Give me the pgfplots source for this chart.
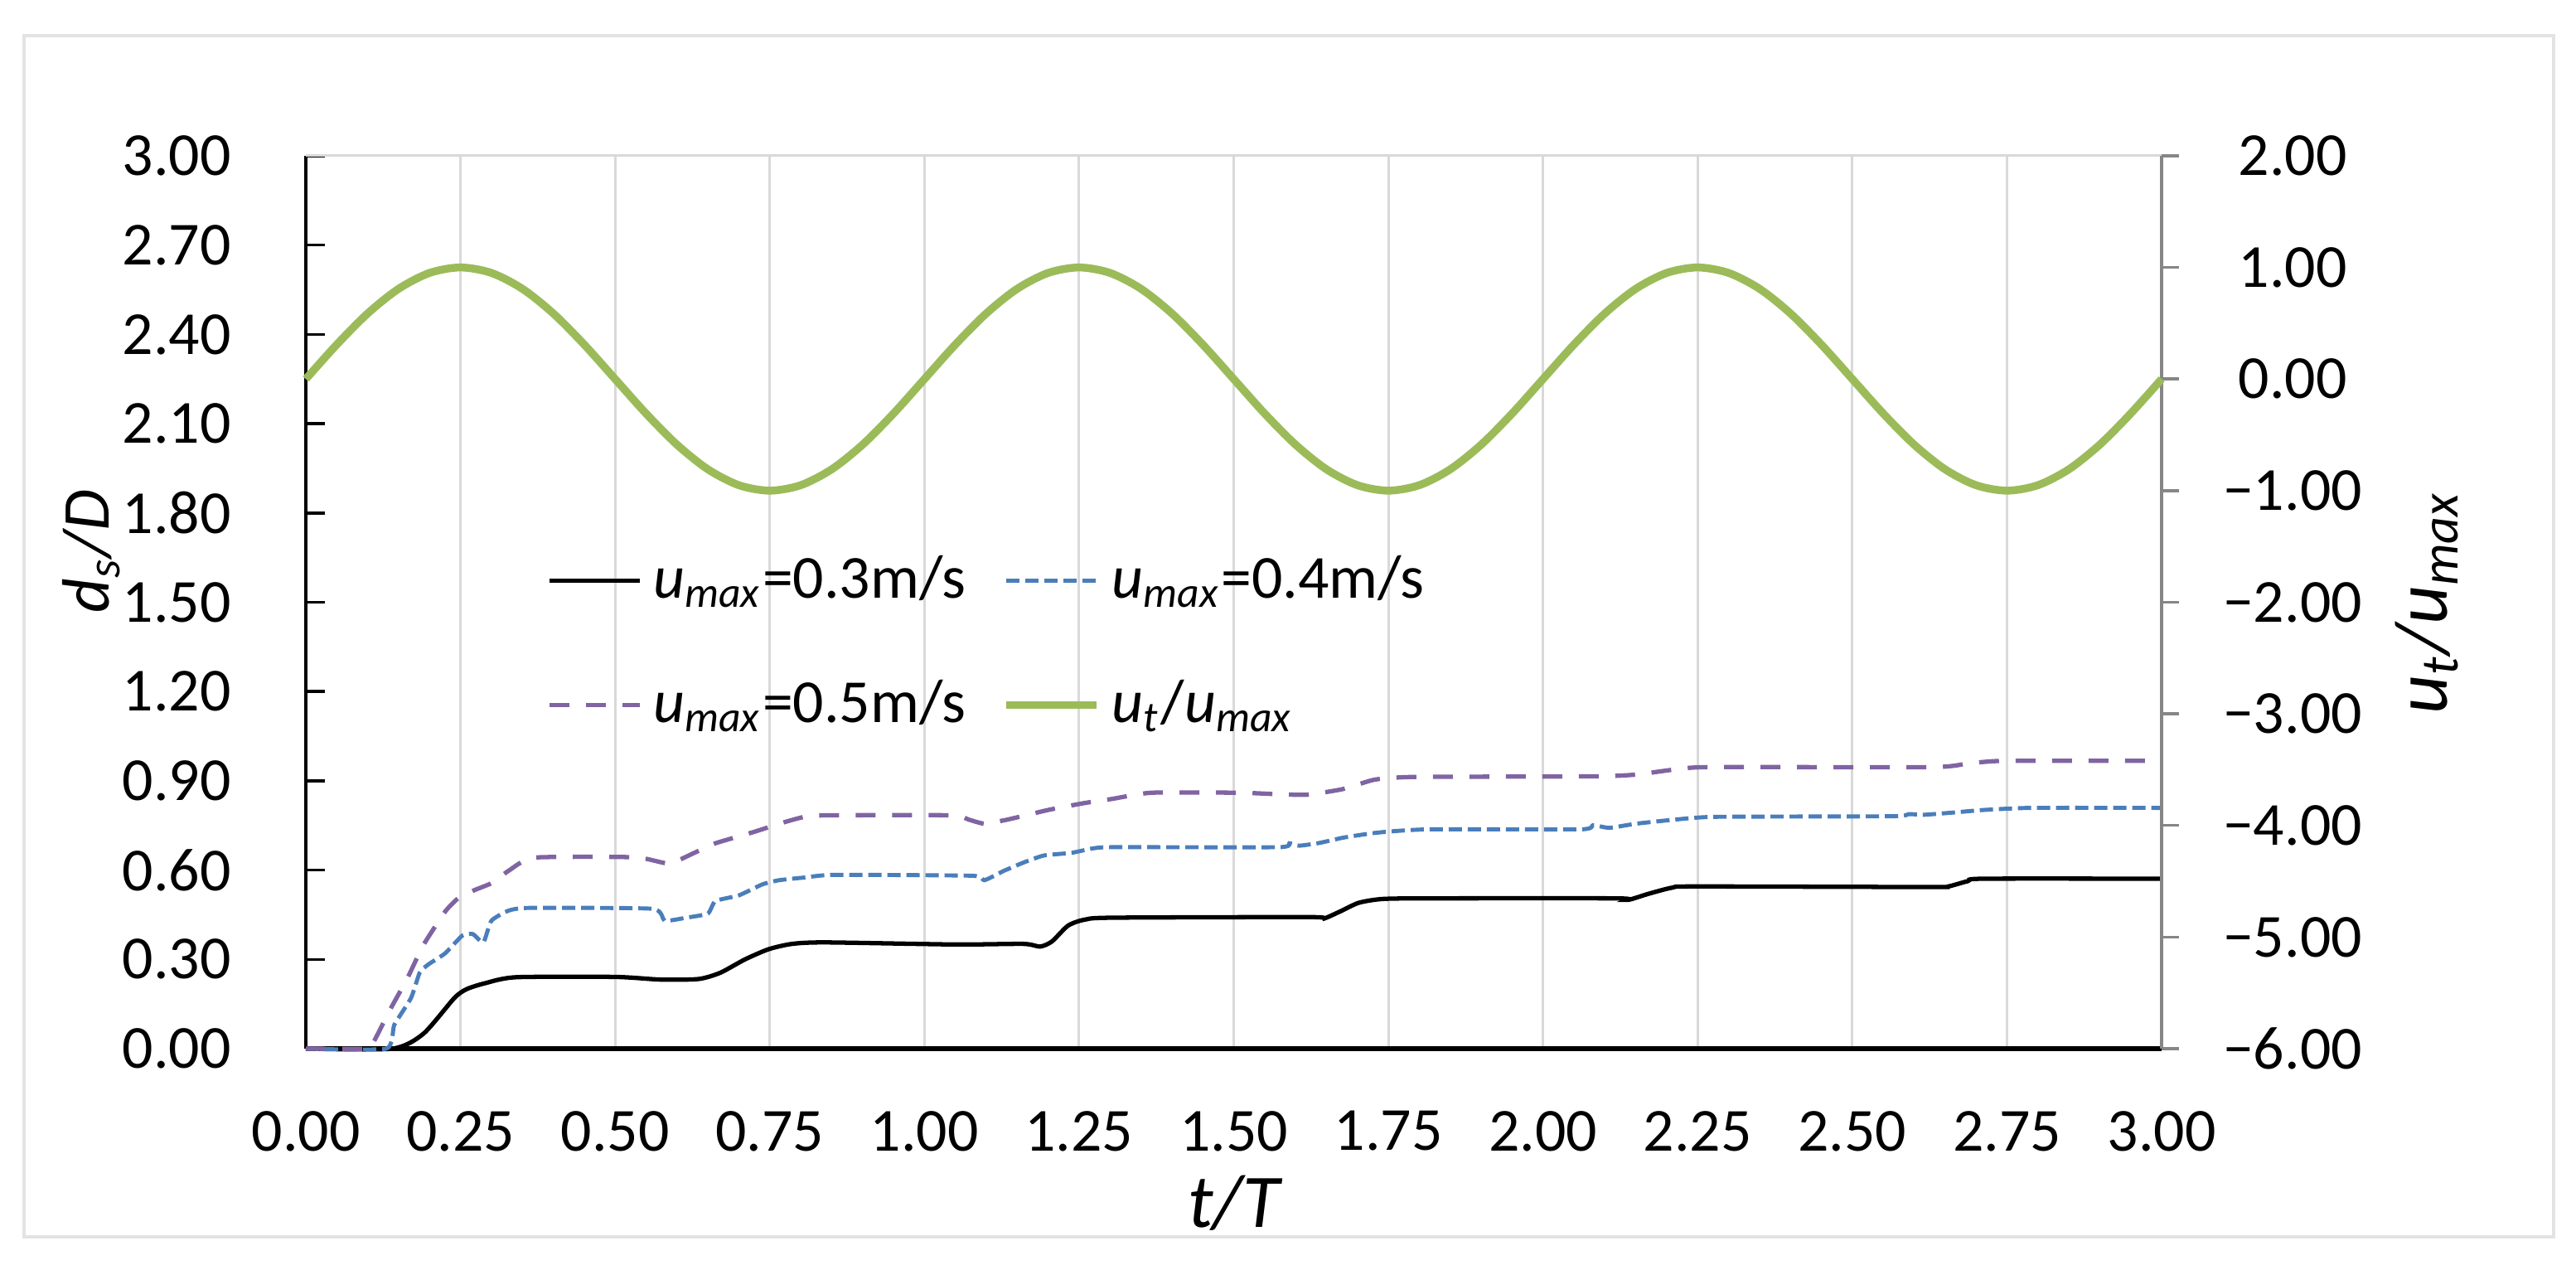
\documentclass[border=0pt]{standalone}
\usepackage{fontspec}
\setmainfont{Carlito}
\usepackage{pgfplots}
\pgfplotsset{compat=1.18}
\usepackage{pgfplotstable}

\definecolor{cblue}{HTML}{4A7EBB}
\definecolor{cpur}{HTML}{8064A2}
\definecolor{cgreen}{HTML}{9BBB59}
\definecolor{gridc}{HTML}{D9D9D9}
\definecolor{raxis}{HTML}{868686}
\definecolor{framec}{HTML}{E3E3E3}

\pgfplotstableread{
t v
0 0
0.14 0
0.19 0.05
0.24 0.17
0.26 0.20
0.29 0.22
0.34 0.24
0.50 0.241
0.574 0.232
0.635 0.234
0.67 0.255
0.71 0.30
0.748 0.334
0.786 0.352
0.84 0.357
1.05 0.35
1.16 0.352
1.187 0.343
1.206 0.36
1.232 0.413
1.258 0.433
1.303 0.44
1.625 0.442
1.644 0.436
1.67 0.459
1.702 0.49
1.741 0.503
1.818 0.505
2.119 0.505
2.138 0.50
2.17 0.52
2.209 0.541
2.247 0.545
2.63 0.543
2.655 0.545
2.687 0.563
2.712 0.571
3.0 0.571
}\dA

\pgfplotstableread{
t v
0 0
0.13 0
0.143 0.08
0.17 0.17
0.184 0.255
0.198 0.283
0.225 0.32
0.253 0.38
0.27 0.385
0.287 0.357
0.30 0.43
0.328 0.464
0.362 0.473
0.56 0.47
0.58 0.43
0.615 0.44
0.65 0.454
0.662 0.496
0.70 0.515
0.738 0.552
0.765 0.566
0.806 0.575
0.854 0.584
1.077 0.581
1.097 0.566
1.129 0.598
1.161 0.626
1.193 0.649
1.238 0.658
1.27 0.672
1.303 0.677
1.573 0.677
1.59 0.69
1.606 0.682
1.638 0.691
1.677 0.709
1.721 0.723
1.754 0.73
1.818 0.737
2.062 0.737
2.081 0.751
2.107 0.742
2.151 0.756
2.215 0.77
2.279 0.779
2.566 0.781
2.591 0.788
2.617 0.786
2.661 0.793
2.712 0.802
2.789 0.809
3.0 0.809
}\dB

\pgfplotstableread{
t v
0 0
0.10 0
0.109 0.02
0.137 0.134
0.164 0.236
0.19 0.348
0.225 0.46
0.246 0.505
0.273 0.533
0.30 0.556
0.328 0.598
0.369 0.642
0.533 0.643
0.587 0.622
0.628 0.658
0.662 0.69
0.724 0.728
0.772 0.76
0.806 0.779
0.84 0.784
1.045 0.784
1.071 0.77
1.097 0.756
1.135 0.77
1.2 0.802
1.258 0.825
1.303 0.839
1.367 0.86
1.509 0.86
1.56 0.856
1.618 0.853
1.676 0.872
1.728 0.904
1.792 0.913
2.087 0.915
2.151 0.921
2.209 0.937
2.266 0.946
2.63 0.946
2.687 0.958
2.744 0.967
3.0 0.967
}\dC

\pgfplotstableread{
t v
0.00 0
0.05 0.309
0.10 0.588
0.15 0.809
0.20 0.951
0.25 1
0.30 0.951
0.35 0.809
0.40 0.588
0.45 0.309
0.50 0
0.55 -0.309
0.60 -0.588
0.65 -0.809
0.70 -0.951
0.75 -1
0.80 -0.951
0.85 -0.809
0.90 -0.588
0.95 -0.309
1.00 0
1.05 0.309
1.10 0.588
1.15 0.809
1.20 0.951
1.25 1
1.30 0.951
1.35 0.809
1.40 0.588
1.45 0.309
1.50 0
1.55 -0.309
1.60 -0.588
1.65 -0.809
1.70 -0.951
1.75 -1
1.80 -0.951
1.85 -0.809
1.90 -0.588
1.95 -0.309
2.00 0
2.05 0.309
2.10 0.588
2.15 0.809
2.20 0.951
2.25 1
2.30 0.951
2.35 0.809
2.40 0.588
2.45 0.309
2.50 0
2.55 -0.309
2.60 -0.588
2.65 -0.809
2.70 -0.951
2.75 -1
2.80 -0.951
2.85 -0.809
2.90 -0.588
2.95 -0.309
3.00 0
}\dG

\begin{document}
\begin{tikzpicture}
\path[use as bounding box] (0,0) rectangle (15.54cm,7.66cm);
\draw[framec, line width=0.02cm] (0.145cm,0.2cm) rectangle (15.405cm,7.445cm);

\begin{axis}[
  at={(1.845cm,1.335cm)}, anchor=south west,
  scale only axis, width=11.195cm, height=5.385cm,
  xmin=0, xmax=3, ymin=0, ymax=3,
  axis x line*=bottom, axis y line*=left,
  clip=false,
  xtick={0,0.25,0.5,0.75,1,1.25,1.5,1.75,2,2.25,2.5,2.75,3},
  xticklabels={0.00,0.25,0.50,0.75,1.00,1.25,1.50,1.75,2.00,2.25,2.50,2.75,3.00},
  ytick={0,0.3,0.6,0.9,1.2,1.5,1.8,2.1,2.4,2.7,3.0},
  yticklabels={0.00,0.30,0.60,0.90,1.20,1.50,1.80,2.10,2.40,2.70,3.00},
  xmajorgrids=true,
  major grid style={gridc, line width=0.015cm},
  xtick style={draw=none},
  ytick style={black, line width=0.5pt},
  tick align=inside,
  major tick length=0.117cm,
  ytick pos=left,
  x axis line style={black, line width=0.75pt},
  y axis line style={black, line width=0.5pt},
  tick label style={font=\fontsize{10.5}{12}\selectfont, inner sep=0pt},
  xticklabel style={anchor=north, yshift=-0.37cm},
  yticklabel style={anchor=east, xshift=-0.445cm},
  xlabel={\itshape t/T},
  xlabel style={at={(rel axis cs:0.5,0)}, yshift=-0.93cm, anchor=center, font=\fontsize{13}{15}\selectfont},
  ylabel={\itshape d\textsubscript{s}/D},
  ylabel style={at={(rel axis cs:0,0.557)}, yshift=1.295cm, anchor=center, font=\fontsize{11.5}{14}\selectfont},
  legend columns=2,
  legend style={draw=none, fill=none, at={(axis cs:0.36,1.74)}, anchor=north west,
    font=\fontsize{10.5}{12}\selectfont, row sep=0.3cm,
    /tikz/every even column/.append style={column sep=0.15cm}},
  legend cell align=left,
  legend image code/.code={\draw[#1] (0cm,0cm) -- (0.545cm,0cm);},
]
\draw[gridc, line width=0.015cm] (rel axis cs:0,1) -- (rel axis cs:1,1);
\addplot[black, line width=0.75pt, smooth, tension=0.4] table {\dA};
\addlegendentry{\textit{u}\textsubscript{\textit{max}}=0.3m/s}
\addplot[cblue, line width=0.7pt, dash pattern=on 0.08cm off 0.035cm, smooth, tension=0.3] table {\dB};
\addlegendentry{\textit{u}\textsubscript{\textit{max}}=0.4m/s}
\addplot[cpur, line width=0.75pt, dash pattern=on 0.12cm off 0.1cm, smooth, tension=0.3] table {\dC};
\addlegendentry{\textit{u}\textsubscript{\textit{max}}=0.5m/s}
\addlegendimage{cgreen, line width=1.35pt}
\addlegendentry{\textit{u}\textsubscript{\textit{t}}/\textit{u}\textsubscript{\textit{max}}}
\end{axis}

\begin{axis}[
  at={(1.845cm,1.335cm)}, anchor=south west,
  scale only axis, width=11.195cm, height=5.385cm,
  xmin=0, xmax=3, ymin=-6, ymax=2,
  axis x line=none, axis y line*=right,
  clip=false,
  ytick={-6,-5,-4,-3,-2,-1,0,1,2},
  yticklabels={−6.00,−5.00,−4.00,−3.00,−2.00,−1.00,0.00,1.00,2.00},
  tick align=outside,
  major tick length=0.105cm,
  ytick style={raxis, line width=0.5pt},
  y axis line style={raxis, line width=0.6pt},
  tick label style={font=\fontsize{10.5}{12}\selectfont, inner sep=0pt},
  yticklabel style={anchor=center, xshift=0.685cm},
  ylabel={\itshape u\textsubscript{t}/u\textsubscript{max}},
  ylabel style={at={(rel axis cs:1,0.5)}, yshift=-1.6cm, anchor=center, font=\fontsize{13}{15}\selectfont},
]
\addplot[cgreen, line width=1.35pt, smooth] table {\dG};
\end{axis}
\end{tikzpicture}
\end{document}
